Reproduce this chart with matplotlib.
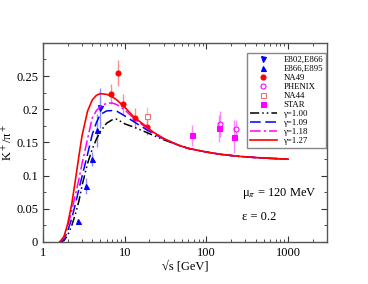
import matplotlib
matplotlib.use('Agg')
import matplotlib.pyplot as plt

plt.rcParams['font.family'] = ['Liberation Serif', 'DejaVu Serif']
plt.rcParams['mathtext.fontset'] = 'stix'

# model curves
sqrt_s = [1.6, 1.8, 2.0, 2.25, 2.5, 2.75, 3.0, 3.5, 4.0, 4.5, 5.0, 6.0, 7.0, 8.0,
          10, 13, 17, 22, 30, 45, 60, 100, 150, 250, 400, 600, 1000]
g100 = [0.0, 0.002, 0.010, 0.025, 0.043, 0.062, 0.085, 0.118, 0.140, 0.155, 0.166, 0.179, 0.184, 0.185,
        0.178, 0.173, 0.167, 0.161, 0.154, 0.146, 0.141, 0.1355, 0.132, 0.129, 0.1272, 0.126, 0.1248]
g109 = [0.0, 0.004, 0.016, 0.036, 0.058, 0.080, 0.099, 0.132, 0.162, 0.180, 0.192, 0.1975, 0.198, 0.197,
        0.190, 0.181, 0.172, 0.164, 0.155, 0.146, 0.141, 0.1355, 0.132, 0.129, 0.1272, 0.126, 0.1248]
g118 = [0.0, 0.006, 0.022, 0.048, 0.072, 0.095, 0.118, 0.155, 0.187, 0.198, 0.204, 0.209, 0.2095, 0.207,
        0.199, 0.186, 0.175, 0.165, 0.1555, 0.146, 0.141, 0.1355, 0.132, 0.129, 0.1272, 0.126, 0.1248]
g127 = [0.0, 0.008, 0.027, 0.058, 0.095, 0.130, 0.160, 0.197, 0.214, 0.221, 0.2235, 0.2225, 0.219, 0.214,
        0.203, 0.188, 0.177, 0.166, 0.156, 0.146, 0.141, 0.1355, 0.132, 0.129, 0.1272, 0.126, 0.1248]

# data points
e802_x = [4.96]
e802_y = [0.2016]
e802_err = [0.03]

e866_x = [2.70, 3.34, 3.93, 4.55]
e866_y = [0.031, 0.0838, 0.125, 0.168]
e866_err = [0.004, 0.012, 0.01, 0.025]

na49_x = [6.78, 8.2, 9.45, 13.2, 18.9]
na49_y = [0.2235, 0.2545, 0.2076, 0.1866, 0.1737]
na49_err = [0.015, 0.02, 0.015, 0.015, 0.013]

phenix_x = [146, 233]
phenix_y = [0.1776, 0.170]
phenix_err = [0.02, 0.014]

na44_x = [18.9]
na44_y = [0.19]
na44_err = [0.013]

star_x = [66.5, 142, 219]
star_y = [0.1607, 0.171, 0.1587]
star_err = [0.016, 0.02, 0.025]

fig = plt.figure(figsize=(3.68, 2.84), dpi=100)
ax = fig.add_axes([0.117, 0.148, 0.772, 0.701])

def pts(x, y, err, marker, color, label, mfc=None, ms=3.6):
    ax.errorbar(x, y, yerr=err, fmt='none', ecolor=color, alpha=0.45, elinewidth=1.0)
    ax.plot(x, y, marker=marker, linestyle='none', color=color, markersize=ms,
            markerfacecolor=color if mfc is None else mfc, markeredgewidth=0.8, label=label)

pts(e802_x, e802_y, e802_err, 'v', '#0000ff', 'E802,E866')
pts(e866_x, e866_y, e866_err, '^', '#0000ff', 'E866,E895')
pts(na49_x, na49_y, na49_err, 'o', '#ff0000', 'NA49')
pts(phenix_x, phenix_y, phenix_err, 'o', '#ff00ff', 'PHENIX', mfc='white')
pts(na44_x, na44_y, na44_err, 's', '#f07070', 'NA44', mfc='white')
pts(star_x, star_y, star_err, 's', '#ff00ff', 'STAR')

ax.plot(sqrt_s, g100, color='black', lw=1.1, linestyle=(0, (6, 2, 1, 2, 1, 2)), label='γ=1.00')
ax.plot(sqrt_s, g109, color='#0000ff', lw=1.1, linestyle=(0, (7, 3)), label='γ=1.09')
ax.plot(sqrt_s, g118, color='#ff00ff', lw=1.1, linestyle=(0, (7, 2, 1.5, 2)), label='γ=1.18')
ax.plot(sqrt_s, g127, color='#ff0000', lw=1.2, label='γ=1.27')

ax.set_xscale('log')
ax.set_xlim(1, 3000)
ax.set_ylim(0, 0.3)
ax.set_yticks([0, 0.05, 0.1, 0.15, 0.2, 0.25])
ax.set_yticklabels(['0', '0.05', '0.1', '0.15', '0.2', '0.25'])
ax.set_yticks([0.025, 0.075, 0.125, 0.175, 0.225, 0.275], minor=True)
ax.set_xticks([1, 10, 100, 1000])
ax.set_xticklabels(['1', '10', '100', '1000'])
ax.tick_params(which='both', direction='in', top=True, right=True, labelsize=9, color='#333333')
ax.tick_params(which='major', length=4)
ax.tick_params(which='minor', length=2)
for sp in ax.spines.values():
    sp.set_color('#555555')
    sp.set_linewidth(1.0)

ax.set_xlabel('√s [GeV]', fontsize=9, labelpad=1)
ax.set_ylabel('K$^+$/π$^+$', fontsize=9, labelpad=1)

ax.text(0.70, 0.23, 'μ$_π$ = 120 MeV', transform=ax.transAxes, fontsize=9)
ax.text(0.70, 0.11, 'ε = 0.2', transform=ax.transAxes, fontsize=9)

leg = ax.legend(loc='upper right', bbox_to_anchor=(0.997, 0.95), fontsize=6.3,
                handlelength=3.0, borderaxespad=0, labelspacing=0.1, fancybox=False,
                framealpha=1, edgecolor='#888888', handletextpad=0.8, borderpad=0.35)
leg.get_frame().set_linewidth(1.0)

fig.savefig('out.png', dpi=100)
